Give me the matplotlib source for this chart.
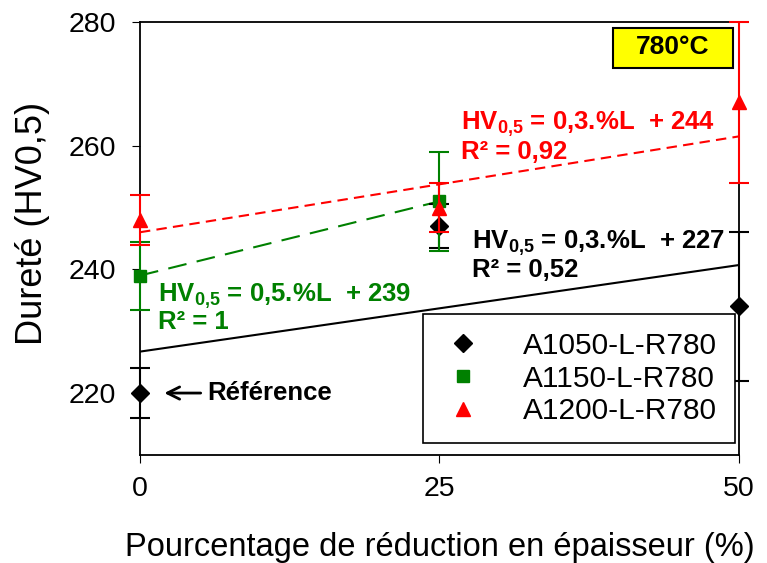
import matplotlib.pyplot as plt
import numpy as np
from matplotlib.patches import Rectangle

plt.rcParams['font.family'] = ['Liberation Sans', 'DejaVu Sans']
plt.rcParams['mathtext.fontset'] = 'custom'
plt.rcParams['mathtext.rm'] = 'Liberation Sans'
plt.rcParams['mathtext.bf'] = 'Liberation Sans:bold'

# Data
reduction = [0, 25, 50]
names = ["A1050-L-R780", "A1150-L-R780", "A1200-L-R780"]
hv_1050 = [220, 247, 234]
err_1050 = [4, 3.5, 12]
hv_1150 = [239, 251]
err_1150 = [5.5, 8]
hv_1200 = [248, 250, 267]
err_1200 = [4, 4, 13]

# trendlines as drawn (intercept, slope)
trend_1050 = (226.7, 0.28)
trend_1150 = (239.0, 0.48)
trend_1200 = (246.0, 0.31)

fig = plt.figure(figsize=(7.67, 5.63), dpi=100)
ax = fig.add_axes([0.1825, 0.192, 0.781, 0.769])

xx = np.array([0, 50])
ax.plot(xx, trend_1050[0] + trend_1050[1]*xx, color='black', lw=1.5, zorder=2)
xg = np.array([0, 25])
ax.plot(xg, trend_1150[0] + trend_1150[1]*xg, color='green', lw=1.5,
        dashes=(9, 5), zorder=2)
ax.plot(xx, trend_1200[0] + trend_1200[1]*xx, color='red', lw=1.5,
        dashes=(5, 3), zorder=2)

series = [(reduction, hv_1050, err_1050, 'D', 'black', 9),
          (reduction[:2], hv_1150, err_1150, 's', 'green', 9),
          (reduction, hv_1200, err_1200, '^', 'red', 10)]
handles = []
for i, (x, y, e, m, c, ms) in enumerate(series):
    eb = ax.errorbar(x, y, yerr=e, fmt='none', ecolor=c, capsize=7,
                     elinewidth=1.5, capthick=1.5, zorder=3 + i)
    for art in eb.lines[1] + eb.lines[2]:
        art.set_clip_on(False)
    ln, = ax.plot(x, y, m, color=c, ms=ms, clip_on=False, zorder=3.5 + i,
                  label=names[i])
    handles.append(ln)

ax.set_xlim(0, 50)
ax.set_ylim(210, 280)
ax.set_xticks([0, 25, 50])
ax.set_yticks([220, 240, 260, 280])
ax.tick_params(direction='out', length=6, labelsize=20.5, pad=11)
ax.tick_params(axis='x', pad=9)
for s in ax.spines.values():
    s.set_linewidth(1.3)

ax.set_xlabel("Pourcentage de réduction en épaisseur (%)", fontsize=23.5, labelpad=22)
ax.set_ylabel("Dureté (HV0,5)", fontsize=26)
ax.yaxis.set_label_coords(-0.151, 0.535)

fs = 18.5
sub = "HV$_{\\mathbf{0{,}5}}$"
ax.text(1.5, 235.6, sub + " = 0,5.%L  + 239", color='green',
        fontsize=fs, fontweight='bold', va='center')
ax.text(1.5, 231.5, "R² = 1", color='green', fontsize=fs, fontweight='bold', va='center')
ax.text(26.8, 263.5, sub + " = 0,3.%L  + 244", color='red',
        fontsize=fs, fontweight='bold', va='center')
ax.text(26.8, 259.0, "R² = 0,92", color='red', fontsize=fs, fontweight='bold', va='center')
ax.text(27.7, 244.3, sub + " = 0,3.%L  + 227", color='black',
        fontsize=fs, fontweight='bold', va='center')
ax.text(27.7, 239.9, "R² = 0,52", color='black', fontsize=fs, fontweight='bold', va='center')

ax.annotate("", xy=(1.8, 220), xytext=(5.3, 220),
            arrowprops=dict(arrowstyle='->', color='black', lw=2, mutation_scale=22))
ax.text(5.6, 220, "Référence", fontsize=18.5, fontweight='bold', va='center')

ax.add_patch(Rectangle((0.79, 0.894), 0.2, 0.092, transform=ax.transAxes,
                       fc='yellow', ec='black', lw=1.5, zorder=6))
ax.text(0.89, 0.942, "780°C", fontsize=19, fontweight='bold', ha='center', va='center',
        transform=ax.transAxes, zorder=7)

leg = ax.legend(handles=handles, loc='lower right', bbox_to_anchor=(0.993, 0.027),
                fontsize=21.5, fancybox=False, edgecolor='black', framealpha=1,
                borderpad=0.6, handletextpad=1.25, labelspacing=0.16,
                handlelength=1.5, borderaxespad=0)
leg.get_frame().set_linewidth(1.2)

fig.savefig("out.png", dpi=100)
